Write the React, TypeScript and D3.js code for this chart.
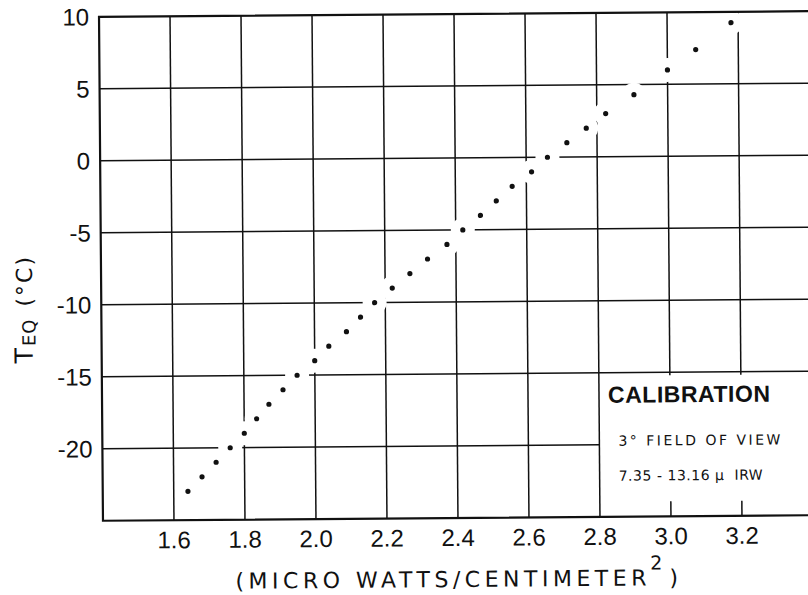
import React from "react";
import { scaleLinear } from "d3";

// calibration points
const radiance = [
  1.64, 1.68, 1.72, 1.76, 1.8, 1.835, 1.87, 1.91, 1.95, 2.0, 2.04, 2.09, 2.13,
  2.17, 2.22, 2.27, 2.32, 2.375, 2.42, 2.47, 2.515, 2.56, 2.615, 2.66, 2.715,
  2.77, 2.825, 2.905, 3.0, 3.08, 3.18,
];
const tempEq = [
  -23, -22, -21, -20, -19, -18, -17, -16, -15, -14, -13, -12, -11, -10, -9, -8,
  -7, -6, -5, -4, -3, -2, -1, 0, 1, 2, 3, 4.3, 6.0, 7.4, 9.25,
];
const xTicks = [1.6, 1.8, 2.0, 2.2, 2.4, 2.6, 2.8, 3.0, 3.2];
const xTickLabels = ["1.6", "1.8", "2.0", "2.2", "2.4", "2.6", "2.8", "3.0", "3.2"];
const yTicks = [10, 5, 0, -5, -10, -15, -20];
const yTickLabels = ["10", "5", "0", "-5", "-10", "-15", "-20"];
const legendLines = ["3° FIELD OF VIEW", "7.35 - 13.16 μ  IRW"];

const App = () => {
  const width = 808;
  const height = 595;
  const font = "'Liberation Sans', Arial, sans-serif";
  const wideFont = "'DejaVu Sans', sans-serif";
  const ink = "#111";

  const xScale = scaleLinear().domain([1.4, 3.4]).range([101, 811]);
  const yScale = scaleLinear().domain([-25, 10]).range([518, 14]);
  const x0 = xScale(1.4);
  const yTop = yScale(10);
  const yBot = yScale(-25);
  const legendX = 2.8;
  const legendY = -15;

  const points = radiance.map((d, i) => ({ x: d, y: tempEq[i] }));

  return (
    <svg
      width={width}
      height={height}
      style={{ position: "absolute", left: 0, top: 0, background: "#fff" }}
    >
      <rect width={width} height={height} fill="#fff" />
      <g transform={`rotate(-0.45, 454, 268)`}>
        {/* vertical grid */}
        {xTicks.map((v, i) =>
          v > legendX ? (
            <g key={i}>
              <line
                x1={xScale(v)}
                x2={xScale(v)}
                y1={yTop}
                y2={yScale(legendY) + 3}
                stroke={ink}
                strokeWidth={1.5}
              />
              <line
                x1={xScale(v)}
                x2={xScale(v)}
                y1={yBot - 15}
                y2={yBot}
                stroke={ink}
                strokeWidth={1.5}
              />
            </g>
          ) : (
            <line
              key={i}
              x1={xScale(v)}
              x2={xScale(v)}
              y1={yTop}
              y2={yBot}
              stroke={ink}
              strokeWidth={1.5}
            />
          )
        )}
        {/* horizontal grid */}
        {yTicks
          .filter((v) => v < 10)
          .map((v, i) => (
            <line
              key={i}
              x1={x0}
              x2={v < legendY ? xScale(legendX) : width + 20}
              y1={yScale(v)}
              y2={yScale(v)}
              stroke={ink}
              strokeWidth={1.5}
            />
          ))}
        {/* gaps in the grid round the points */}
        {points.map((d, i) => (
          <circle key={i} cx={xScale(d.x)} cy={yScale(d.y)} r={12} fill="#fff" />
        ))}
        {/* frame */}
        <path
          d={`M${width + 20},${yTop}H${x0}V${yBot}H${width + 20}`}
          fill="none"
          stroke={ink}
          strokeWidth={2.2}
        />
        {points.map((d, i) => (
          <circle key={i} cx={xScale(d.x)} cy={yScale(d.y)} r={2.6} fill={ink} />
        ))}

        {/* y tick labels */}
        {yTicks.map((v, i) => (
          <text
            key={i}
            x={91}
            y={yScale(v) + 8.5}
            textAnchor="end"
            fontFamily={font}
            fontSize={24}
            fill={ink}
          >
            {yTickLabels[i]}
          </text>
        ))}
        {/* x tick labels */}
        {xTicks.map((v, i) => (
          <text
            key={i}
            x={xScale(v)}
            y={546}
            textAnchor="middle"
            fontFamily={font}
            fontSize={24}
            fill={ink}
          >
            {xTickLabels[i]}
          </text>
        ))}

        {/* x title */}
        <text
          x={233}
          y={587}
          fontFamily={wideFont}
          fontSize={22}
          fill={ink}
          textLength={411}
          lengthAdjust="spacing"
        >
          (MICRO WATTS/CENTIMETER
        </text>
        <text x={648} y={571} fontFamily={wideFont} fontSize={19} fill={ink}>
          2
        </text>
        <text x={667} y={587} fontFamily={wideFont} fontSize={22} fill={ink}>
          )
        </text>

        {/* y title */}
        <text
          transform="translate(32,360) rotate(-90)"
          fontFamily={wideFont}
          fill={ink}
        >
          <tspan fontSize={25}>T</tspan>
          <tspan fontSize={18} dx={2} dy={3} letterSpacing={1}>
            EQ
          </tspan>
          <tspan fontSize={22} dx={12} dy={-3} letterSpacing={2}>
            (°C)
          </tspan>
        </text>

        {/* legend */}
        <text
          x={607}
          y={404}
          fontFamily={font}
          fontSize={23}
          fontWeight="bold"
          fill={ink}
          textLength={162}
          lengthAdjust="spacing"
        >
          CALIBRATION
        </text>
        {legendLines.map((t, i) => (
          <text
            key={i}
            x={617}
            y={447 + i * 35}
            fontFamily={wideFont}
            fontSize={14}
            fill={ink}
            textLength={i === 0 ? 162 : 144}
            lengthAdjust="spacing"
            style={{ whiteSpace: "pre" }}
          >
            {t}
          </text>
        ))}
      </g>
    </svg>
  );
};

export default App;
